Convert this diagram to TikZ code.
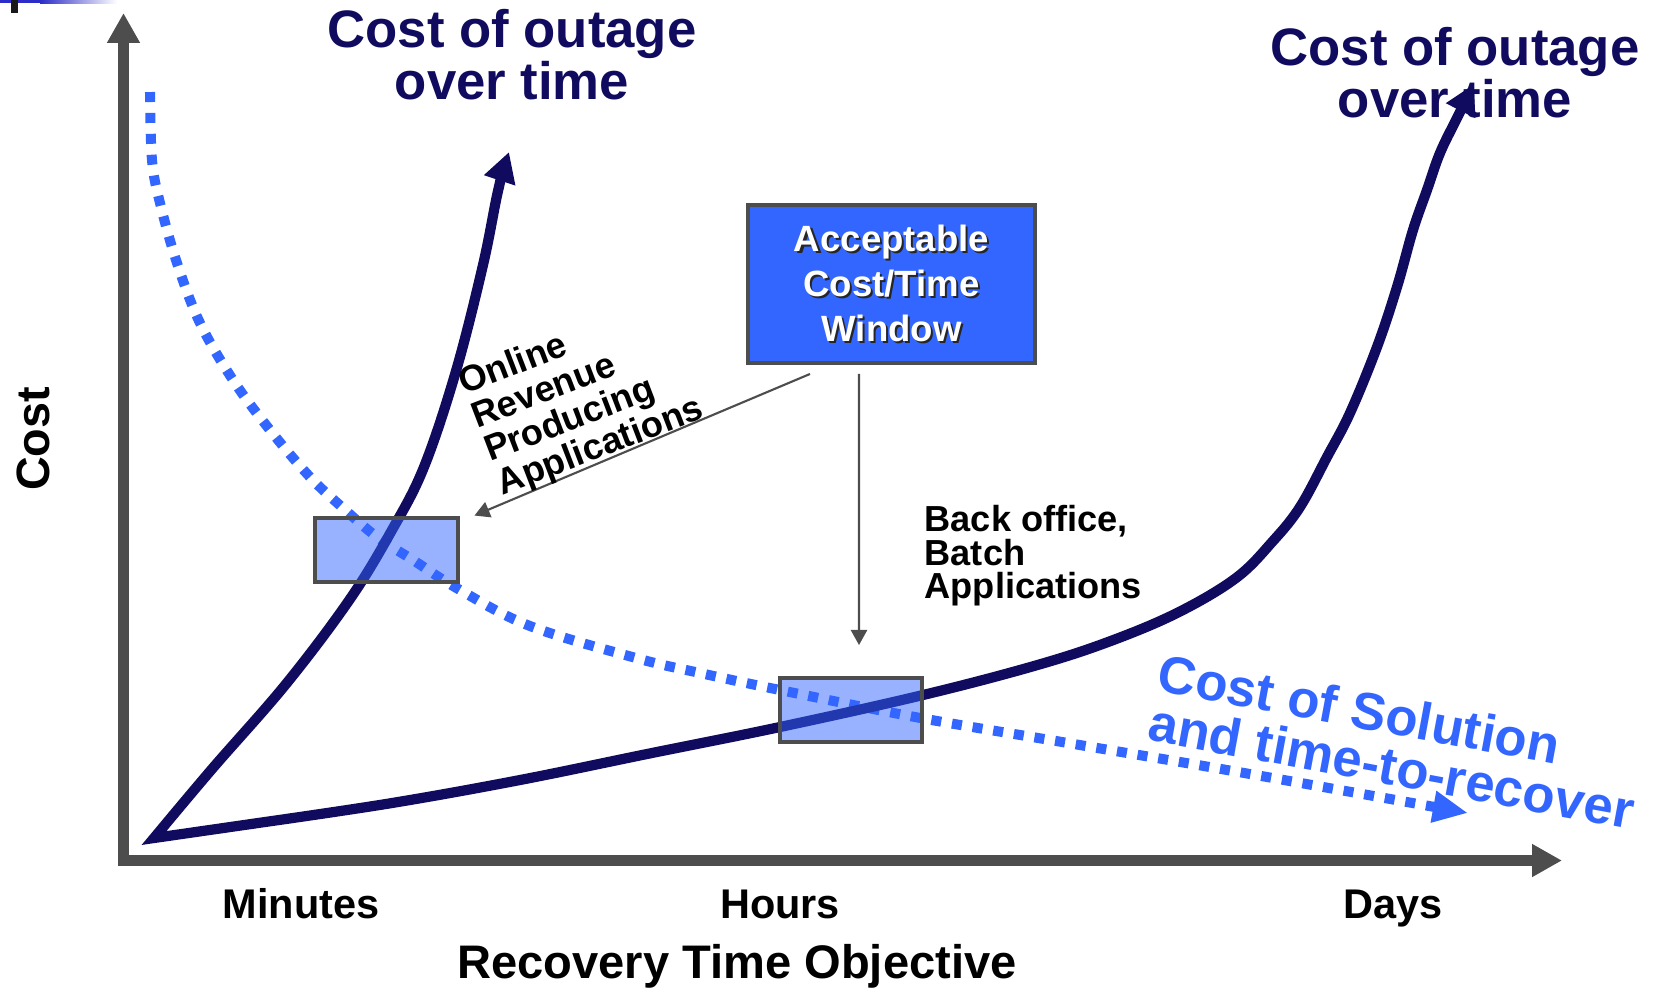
\documentclass[tikz,border=0pt]{standalone}
\usepackage{fontspec}
\setmainfont{Liberation Sans}
\usetikzlibrary{arrows.meta}
\definecolor{navy}{HTML}{100B5E}
\definecolor{axisgray}{HTML}{4D4D4D}
\definecolor{solblue}{HTML}{3366FF}
\definecolor{barblue}{HTML}{2C2CC8}
\newcommand{\shadowtext}[1]{\rlap{\kern0.6pt\raisebox{-0.6pt}{\color{black!85}#1}}{\color{white}#1}}

\begin{document}
\begin{tikzpicture}[x=0.1mm, y=-0.1mm,
    lbl/.style={font=\bfseries\fontsize{10.3}{10.2}\selectfont, inner sep=0pt, align=left},
    outagetitle/.style={font=\bfseries\fontsize{15}{14.8}\selectfont, text=navy, inner sep=0pt, align=center},
    timelbl/.style={font=\bfseries\fontsize{11.8}{14}\selectfont, inner sep=0pt},
    appbox/.style={draw=axisgray, line width=1.4pt, fill=solblue, fill opacity=0.5, inner sep=0pt,
        minimum width=14.3mm, minimum height=6.4mm},
    pointer/.style={draw=axisgray, line width=0.6pt, -{Triangle[length=4.3pt,width=4.6pt]}},
    outage/.style={draw=navy, line width=2.9pt, line join=miter,
        {Triangle[length=8.5pt,width=8.8pt]}-{Triangle[length=8.5pt,width=8.8pt]}},
    solution/.style={draw=solblue, line width=2.85pt, dash pattern=on 2.85pt off 3.1pt,
        -{Triangle[length=10pt,width=8.5pt]}},
]
    \useasboundingbox (0,0) rectangle (1663,988);

    % slide remnants, top left
    \fill[barblue] (0,0) rectangle (40,3);
    \shade[left color=barblue, right color=white] (40,0) rectangle (117,3);
    \fill[black!90] (11,0) rectangle (18,13);

    % axes
    \draw[axisgray, line width=3.1pt, line join=miter,
        {Triangle[length=8.5pt,width=8.8pt]}-{Triangle[length=8.5pt,width=8.8pt]}]
        (123.5,13) -- (123.5,860.5) -- (1562,860.5);

    \node[font=\bfseries\fontsize{13.3}{14}\selectfont, rotate=90, inner sep=0pt] (costlbl) at (33,439) {Cost};
    \node[timelbl, anchor=base] (minutes) at (301,918) {Minutes};
    \node[timelbl, anchor=base] (hours) at (780,918) {Hours};
    \node[timelbl, anchor=base] (days) at (1393,918) {Days};
    \node[font=\bfseries\fontsize{13.4}{14}\selectfont, inner sep=0pt, anchor=base] (rto) at (737,978) {Recovery Time Objective};

    % cost of solution
    \draw[solution] plot[smooth, tension=0.6] coordinates {(150,92) (152,160) (160,203) (177,263)
        (200,323) (233,380) (270,430) (310,477) (343,508) (377,537) (413,560) (460,590) (530,626)
        (636,658) (700,673) (780,690) (915,717) (1068,743) (1250,774) (1468,813)};

    % cost of outage, both curves
    \draw[outage] plot[smooth, tension=0.6] coordinates {(509,152) (498,191) (483,265) (456,371)
        (424,467) (392,530) (350,599) (286,684) (212,769) (154,838)}
        -- plot[smooth, tension=0.6] coordinates {(265,822) (392,803) (520,780) (647,754) (780,727)
        (923,695) (1034,666) (1108,642) (1177,613) (1236,578) (1273,541) (1300,507) (1327,457)
        (1350,413) (1377,347) (1397,287) (1413,230) (1427,190) (1440,153) (1457,118) (1474,84)};

    \node[outagetitle, anchor=north] (titleleft) at (512,9) {Cost of outage\\over time};
    \node[outagetitle, anchor=north] (titleright) at (1455,27) {Cost of outage\\over time};

    % windows
    \node[appbox] (onl) at (386.5,550) {};
    \node[appbox, minimum width=14.2mm] (bat) at (851,710) {};
    \node[draw=axisgray, line width=1.4pt, fill=solblue, minimum width=28.7mm, minimum height=15.8mm,
        inner sep=0pt, align=center, font=\bfseries\fontsize{10.4}{12.8}\selectfont]
        (win) at (891.5,284) {\shadowtext{Acceptable}\\\shadowtext{Cost/Time}\\\shadowtext{Window}};

    \draw[pointer] ([xshift=-8.15mm,yshift=-0.85mm]win.south) -- ([xshift=1.4mm]onl.north east);
    \draw[pointer] ([xshift=-3.25mm,yshift=-0.85mm]win.south) -- ([xshift=0.8mm,yshift=3.05mm]bat.north);

    \node[lbl, rotate=21, anchor=north west] (online) at (454,370) {Online\\Revenue\\Producing\\Applications};
    \node[lbl, font=\bfseries\fontsize{10.3}{9.5}\selectfont, anchor=north west] (backoffice) at (924,505)
        {Back office,\\Batch\\Applications};
    \node[font=\bfseries\fontsize{15}{14.3}\selectfont, text=solblue, inner sep=0pt, align=left,
        rotate=-10.5, anchor=north west] (soltitle) at (1162,652) {Cost of Solution\\and time-to-recover};
\end{tikzpicture}
\end{document}
